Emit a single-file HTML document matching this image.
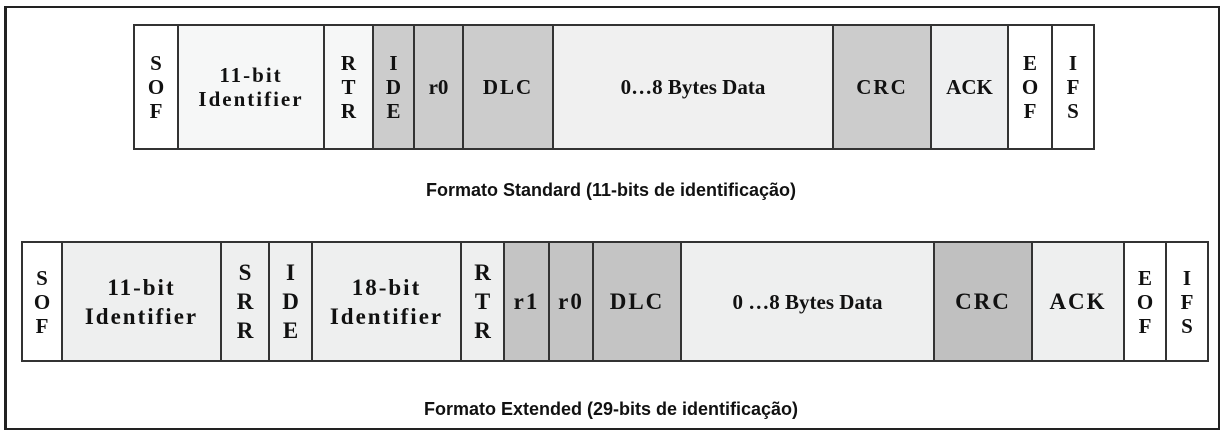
<!DOCTYPE html>
<html><head><meta charset="utf-8">
<style>
body{margin:0;width:1222px;height:432px;background:#fff;position:relative;overflow:hidden;font-family:"Liberation Serif",serif;}
.frame{position:absolute;left:4px;top:6px;width:1211px;height:420px;border:2px solid #222;border-left-width:3px;}
.c{position:absolute;box-sizing:border-box;border:2px solid #333;display:flex;align-items:center;justify-content:center;text-align:center;font-weight:bold;color:#111;font-size:21px;line-height:24px;}
.cap{position:absolute;left:0;width:1222px;text-align:center;font-family:"Liberation Sans",sans-serif;font-weight:bold;font-size:18px;color:#111;}
.sp{letter-spacing:2px;}
.big{font-size:23px;line-height:29px;}
</style></head><body>
<div class="frame"></div>
<div id="top"></div>
<div id="bot"></div>
<div class="cap" style="top:180px">Formato Standard (11-bits de identificação)</div>
<div class="cap" style="top:399px">Formato Extended (29-bits de identificação)</div>
<script>
const topEdges=[133,177,323,372,413,462,552,832,930,1007,1051,1093];
const topLabels=["S<br>O<br>F","<span class='sp'>11-bit<br>Identifier</span>","R<br>T<br>R","I<br>D<br>E","r0","<span class='sp'>DLC</span>","0…8 Bytes Data","<span class='sp'>CRC</span>","ACK","E<br>O<br>F","I<br>F<br>S"];
const topFill=["#fff","#f6f7f7","#f6f7f7","#cccccc","#cccccc","#cccccc","#f0f0f0","#cccccc","#eeeff0","#fff","#fff"];
const topNames=["sof","identifier-11bit","rtr","ide","r0","dlc","data","crc","ack","eof","ifs"];
const botEdges=[21,61,220,268,311,460,503,548,592,680,933,1031,1123,1165,1207];
const botLabels=["S<br>O<br>F","<span class='sp big'>11-bit<br>Identifier</span>","<span class='big'>S<br>R<br>R</span>","<span class='big'>I<br>D<br>E</span>","<span class='sp big'>18-bit<br>Identifier</span>","<span class='big'>R<br>T<br>R</span>","<span class='sp big'>r1</span>","<span class='sp big'>r0</span>","<span class='sp big'>DLC</span>","0 …8 Bytes Data","<span class='sp big'>CRC</span>","<span class='sp big'>ACK</span>","E<br>O<br>F","I<br>F<br>S"];
const botFill=["#fff","#eeefef","#eeefef","#eeefef","#eeefef","#eeefef","#c4c4c4","#c4c4c4","#c4c4c4","#eeefef","#c0c0c0","#eeefef","#fff","#fff"];
const botNames=["sof","identifier-11bit","srr","ide","identifier-18bit","rtr","r1","r0","dlc","data","crc","ack","eof","ifs"];
function row(id,edges,labels,fills,names,y0,y1,prefix){
  const host=document.getElementById(id);
  for(let i=0;i<labels.length;i++){
    const d=document.createElement('div');
    d.className='c';
    
    
    d.style.left=edges[i]+'px';d.style.top=y0+'px';
    d.style.width=(edges[i+1]-edges[i]+2)+'px';d.style.height=(y1-y0)+'px';
    d.style.background=fills[i];
    d.innerHTML=labels[i];
    host.appendChild(d);
  }
}
row('top',topEdges,topLabels,topFill,topNames,24,150,'standard-');
row('bot',botEdges,botLabels,botFill,botNames,241,362,'extended-');
</script>
</body></html>
